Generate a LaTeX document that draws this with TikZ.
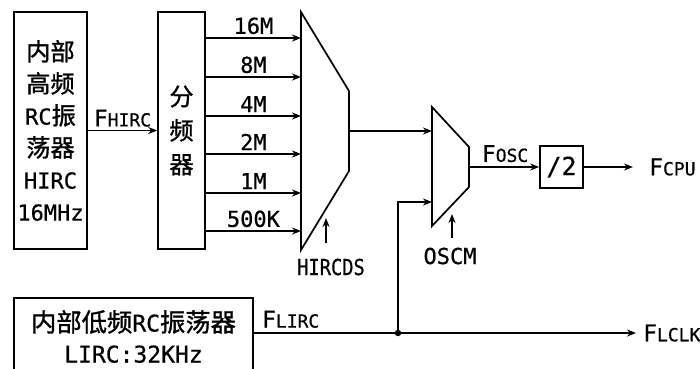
\documentclass[tikz,border=0pt]{standalone}
\usepackage{fontspec}
\setmainfont{DejaVu Sans Mono}[FakeBold=0.6]
\newfontfamily\cjk{Noto Sans CJK SC}[Scale=1.1, FakeBold=1.2]
\newfontfamily\narrowmono{DejaVu Sans Mono}[FakeStretch=0.85, FakeBold=0.6]
\usetikzlibrary{arrows.meta, positioning, calc}
\newcommand\zh[1]{{\cjk #1}}
\newcommand\lowcap[1]{{\fontsize{18}{20}\selectfont #1}}
\tikzset{
  box/.style={rectangle, draw, line width=1.7pt, inner sep=0pt, align=center},
  arrow/.style={-{Stealth[length=9pt,width=7pt]}, line width=1.7pt},
  line/.style={line width=1.7pt},
  mux/.style={draw, line width=1.7pt, line join=miter},
  lbl/.style={font=\fontsize{22}{24}\selectfont, inner sep=1pt},
  sig/.style={font=\fontsize{23}{24}\selectfont, inner sep=1pt}
}
\begin{document}
\begin{tikzpicture}[x=1pt, y=-1pt]
  \useasboundingbox (0,0) rectangle (700,368);
  \clip (0,0) rectangle (700,368);

  % oscillators and divider
  \node[box, minimum width=73pt, minimum height=237pt, font=\fontsize{22}{32}\selectfont] (hirc) at (50.5,130.5)
    {\zh{内部}\\\zh{高频}\\RC\zh{振}\\\zh{荡器}\\HIRC\\16MHz};
  \node[box, minimum width=47pt, minimum height=237pt, font=\cjk\fontsize{22}{34}\selectfont] (div) at (181.5,130.5)
    {分\\频\\器};
  \node[box, minimum width=239pt, minimum height=77pt, font=\fontsize{23}{31}\selectfont] (lirc) at (133.5,336.5)
    {\zh{内部低频}RC\zh{振荡器}\\LIRC:32KHz};

  % muxes
  \coordinate (m1a) at (301,12);
  \coordinate (m1out) at (349,131);
  \draw[mux] (m1a) -- (349,91) -- (349,171) -- (301,250) -- cycle;
  \coordinate (m2a) at (432,131);
  \coordinate (m2b) at (432,202);
  \coordinate (m2out) at (469,167);
  \draw[mux] (432,107) -- (469,147) -- (469,187) -- (432,226) -- cycle;
  \node[box, minimum width=43pt, minimum height=42pt, font=\fontsize{25}{26}\selectfont] (half) at (561.5,167) {/2};

  % HIRC path
  \draw[arrow] (hirc.east) -- node[sig, above=2pt] {F\lowcap{HIRC}} (div.west);
  \foreach \y/\f [count=\i] in {38/16M, 77/8M, 116/4M, 154/2M, 193/1M, 231/500K} {
    \coordinate (in\i) at (301,\y);
    \draw[arrow] (div.east |- in\i) -- node[lbl, above=2pt] {\f} (in\i);
  }
  \draw[arrow] (m1out) -- (m2a);

  % select lines
  \node[lbl, font=\narrowmono\fontsize{22}{24}\selectfont] (hircds) at (331,267) {HIRCDS};
  \coordinate (s1) at (326,218);
  \coordinate (s1b) at (326,243);
  \draw[arrow] (s1b) -- (s1);
  \node[lbl] (oscm) at (450,256) {OSCM};
  \coordinate (s2) at (452,214);
  \coordinate (s2b) at (452,238);
  \draw[arrow] (s2b) -- (s2);

  % outputs
  \draw[arrow] (m2out) -- node[sig, above=3pt, xshift=1pt] {F\lowcap{OSC}} (half.west);
  \coordinate (cpu) at (633,167);
  \draw[arrow] (half.east) -- (cpu);
  \node[sig, right=15pt of cpu] (fcpu) {F\lowcap{CPU}};

  % LIRC path
  \coordinate (j) at (398,333);
  \coordinate (lclk) at (636,333);
  \draw[arrow] (lirc.east |- j) -- (lclk);
  \node[sig, anchor=south west] (flirc) at ([xshift=7pt, yshift=4pt]lirc.east |- j) {F\lowcap{LIRC}};
  \node[sig, right=6pt of lclk] (flclk) {F\lowcap{LCLK}};
  \draw[arrow] (j) |- (m2b);
  \fill (j) circle (3.2pt);
\end{tikzpicture}
\end{document}
